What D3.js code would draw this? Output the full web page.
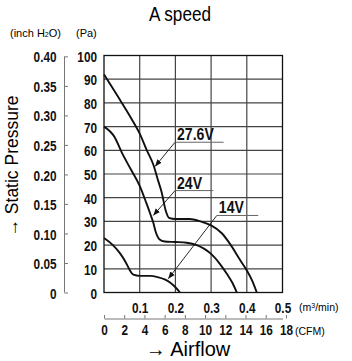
<!DOCTYPE html>
<html>
<head>
<meta charset="utf-8">
<script src="https://cdn.jsdelivr.net/npm/d3@7"></script>
<style>
  body { margin: 0; background: #fff; }
  text { font-family: "Liberation Sans", Arial, sans-serif; }
</style>
</head>
<body>
<div id="chart"></div>
<script>
// curves, airflow in m3/min vs static pressure in Pa
var curve276 = [[0, 92], [0.05, 80], [0.08, 72.5], [0.1, 67], [0.12, 60], [0.138, 54], [0.152, 47], [0.162, 42], [0.172, 35], [0.182, 31.5], [0.2, 31], [0.24, 31], [0.27, 30], [0.3, 28.3], [0.33, 25], [0.353, 20.5], [0.38, 14], [0.4, 9.3], [0.415, 5], [0.428, 0]];
var curve24 = [[0, 70], [0.03, 65.5], [0.05, 59], [0.075, 52], [0.1, 45], [0.118, 38], [0.13, 33], [0.138, 29.5], [0.145, 25.5], [0.155, 22.5], [0.17, 21.5], [0.2, 21.3], [0.232, 21], [0.26, 20], [0.28, 18.5], [0.3, 16.3], [0.325, 12], [0.344, 7.9], [0.36, 4], [0.372, 0]];
var curve14 = [[0, 23], [0.025, 20], [0.045, 16.5], [0.06, 13], [0.072, 9.5], [0.082, 7.5], [0.1, 7], [0.13, 7], [0.15, 6.5], [0.17, 5.5], [0.185, 4.2], [0.2, 2.2], [0.213, 0]];
var curves = [curve276, curve24, curve14];

// labels: text, underline start/end (x), underline y, arrow tip
var labels = ["27.6V", "24V", "14V"];
var lineX0 = [0.199, 0.199, 0.316];
var lineX1 = [0.335, 0.306, 0.432];
var lineY = [63.4, 43, 32.5];
var tipX = [0.143, 0.138, 0.18];
var tipY = [53.2, 32.5, 5.8];

var paTicks = [0, 10, 20, 30, 40, 50, 60, 70, 80, 90, 100];
var inchTicks = [0, 0.05, 0.10, 0.15, 0.20, 0.25, 0.30, 0.35, 0.40];
var flowTicks = [0.1, 0.2, 0.3, 0.4, 0.5];
var cfmTicks = [0, 2, 4, 6, 8, 10, 12, 14, 16, 18];

var W = 352, H = 361;
var PA_PER_INCH = 249.09, CFM_PER_M3 = 35.315;

var svg = d3.select("#chart").append("svg")
    .attr("width", W)
    .attr("height", H);

var x = d3.scaleLinear().domain([0, 0.5]).range([104, 282.5]);
var y = d3.scaleLinear().domain([0, 100]).range([292.5, 55.5]);
var yIn = d3.scaleLinear().domain([0, 100 / PA_PER_INCH]).range([292.5, 55.5]);
var xCfm = d3.scaleLinear().domain([0, 0.5 * CFM_PER_M3]).range([104, 282.5]);

// squeeze text horizontally to mimic the condensed face of the original
function condense(sel, sx) {
    sel.each(function() {
        var t = d3.select(this);
        var tx = +t.attr("x") || 0, ty = +t.attr("y") || 0;
        t.attr("x", 0).attr("y", 0)
            .attr("transform", "translate(" + tx + "," + ty + ") scale(" + sx + ",1)");
    });
}

function numStyle(sel) {
    sel.style("font-family", "Liberation Sans, sans-serif")
        .style("font-size", "15.5px").style("font-weight", "bold").style("fill", "#111");
}

// title
svg.append("text")
    .attr("x", 180).attr("y", 21)
    .attr("text-anchor", "middle")
    .style("font-size", "19.5px")
    .text("A speed")
    .call(condense, 0.88);

// unit headers
svg.append("text")
    .attr("x", 10).attr("y", 37)
    .style("font-size", "11px")
    .html("(inch H<tspan font-size='7px'>2</tspan>O)");
svg.append("text")
    .attr("x", 76).attr("y", 37)
    .style("font-size", "11px")
    .text("(Pa)");

// grid
var grid = svg.append("g");
grid.selectAll(".hg").data(paTicks.slice(1, -1)).enter().append("line")
    .attr("x1", x(0)).attr("x2", x(0.5))
    .attr("y1", function(d) { return y(d); })
    .attr("y2", function(d) { return y(d); })
    .style("stroke", "#444").style("stroke-width", 1.2);
grid.selectAll(".vg").data(flowTicks.slice(0, -1)).enter().append("line")
    .attr("y1", y(0)).attr("y2", y(100))
    .attr("x1", function(d) { return x(d); })
    .attr("x2", function(d) { return x(d); })
    .style("stroke", "#444").style("stroke-width", 1.2);
svg.append("rect")
    .attr("x", x(0)).attr("y", y(100))
    .attr("width", x(0.5) - x(0)).attr("height", y(0) - y(100))
    .style("fill", "none").style("stroke", "#111").style("stroke-width", 1.3);

// Pa axis
var paAxis = svg.append("g")
    .attr("transform", "translate(" + x(0) + ",0)")
    .call(d3.axisLeft(y).tickValues(paTicks).tickSize(0).tickPadding(7));
paAxis.select(".domain").remove();
paAxis.selectAll("text").call(numStyle).attr("dy", "0.36em").call(condense, 0.76);

// inch H2O axis
var inAxis = svg.append("g")
    .attr("transform", "translate(64.5,0)")
    .call(d3.axisRight(yIn).tickValues(inchTicks).tickSize(3.5)
        .tickFormat(function(d) { return d === 0 ? "0" : d3.format(".2f")(d); }));
inAxis.select(".domain").style("stroke", "#777").attr("d", "M0," + yIn(0) + "V" + yIn(0.4));
inAxis.selectAll("line").style("stroke", "#777");
inAxis.selectAll("text")
    .attr("x", -8)
    .attr("text-anchor", "end")
    .call(numStyle).attr("dy", "0.36em").call(condense, 0.76);

// m3/min labels
var flowAxis = svg.append("g")
    .attr("transform", "translate(0," + (y(0) + 9) + ")")
    .call(d3.axisBottom(x).tickValues(flowTicks).tickSize(0).tickPadding(0).tickFormat(d3.format(".1f")));
flowAxis.select(".domain").remove();
flowAxis.selectAll("text").call(numStyle).call(condense, 0.76);
svg.append("text")
    .attr("x", 299).attr("y", 311)
    .style("font-size", "10.5px")
    .html("(m<tspan font-size='7px' dy='-3'>3</tspan><tspan dy='3'>/min)</tspan>");

// CFM axis
var cfmAxis = svg.append("g")
    .attr("transform", "translate(0,318.5)")
    .call(d3.axisBottom(xCfm).tickValues(cfmTicks).tickSizeInner(-3.5).tickSizeOuter(0).tickPadding(3));
cfmAxis.select(".domain").style("stroke", "#777");
cfmAxis.selectAll("line").style("stroke", "#777");
cfmAxis.selectAll("text")
    .attr("y", 5)
    .call(numStyle).call(condense, 0.76);
svg.append("text")
    .attr("x", 295).attr("y", 335)
    .style("font-size", "10.5px")
    .text("(CFM)");

// axis titles
svg.append("text")
    .attr("x", 188).attr("y", 356)
    .attr("text-anchor", "middle")
    .style("font-size", "20px")
    .text("\u2192 Airflow");
svg.append("text")
    .attr("transform", "translate(18,166) rotate(-90)")
    .attr("text-anchor", "middle")
    .style("font-size", "17.5px")
    .text("\u2192 Static Pressure");

// curves
var line = d3.line()
    .x(function(d) { return x(d[0]); })
    .y(function(d) { return y(d[1]); })
    .curve(d3.curveMonotoneX);
svg.selectAll(".curve").data(curves).enter().append("path")
    .attr("d", line)
    .style("fill", "none").style("stroke", "#111").style("stroke-width", 1.9);

// arrowhead
svg.append("defs").append("marker")
    .attr("id", "arrow")
    .attr("viewBox", "0 0 10 10")
    .attr("refX", 10).attr("refY", 5)
    .attr("markerWidth", 7).attr("markerHeight", 7)
    .attr("markerUnits", "userSpaceOnUse")
    .attr("orient", "auto")
    .append("path").attr("d", "M0,1L10,5L0,9Z").style("fill", "#111");

// labels with leader lines
labels.forEach(function(lab, i) {
    svg.append("line")
        .attr("x1", x(lineX0[i])).attr("x2", x(lineX1[i]))
        .attr("y1", y(lineY[i])).attr("y2", y(lineY[i]))
        .style("stroke", "#666").style("stroke-width", 1);
    svg.append("line")
        .attr("x1", x(lineX0[i])).attr("y1", y(lineY[i]))
        .attr("x2", x(tipX[i])).attr("y2", y(tipY[i]))
        .attr("marker-end", "url(#arrow)")
        .style("stroke", "#111").style("stroke-width", 0.9);
    svg.append("text")
        .attr("x", x(lineX0[i]) + 2).attr("y", y(lineY[i]) - 2)
        .style("font-size", "16px").style("font-weight", "bold").style("fill", "#111")
        .text(lab)
        .call(condense, 0.88);
});
</script>
</body>
</html>
